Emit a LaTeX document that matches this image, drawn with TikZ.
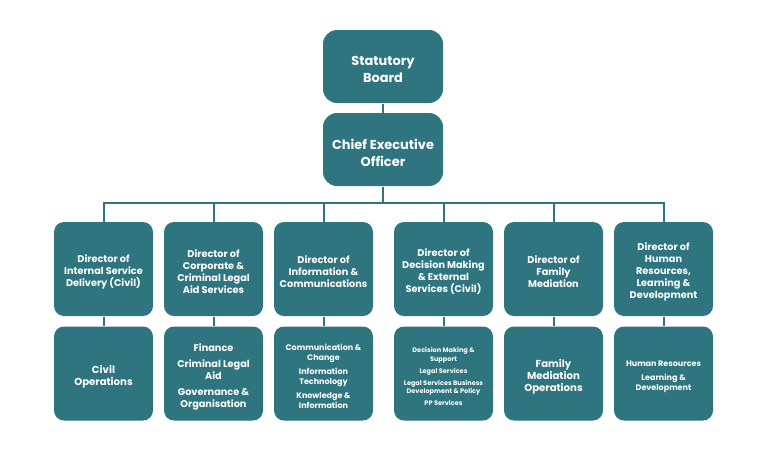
\documentclass[tikz,border=0pt]{standalone}
\usepackage{fontspec}
\setmainfont{Poppins}
\definecolor{boardteal}{RGB}{47,117,128}
\tikzset{every picture/.style={line width=0.75pt}}
\tikzset{
  topbox/.style={fill=boardteal, rounded corners=10.5pt, minimum width=90pt, minimum height=54.75pt, inner sep=0pt},
  unitbox/.style={fill=boardteal, rounded corners=7.5pt, minimum width=74.25pt, minimum height=70.5pt, inner sep=0pt},
  boxtext/.style={text=white, align=center, inner sep=0pt, yshift=-2.25pt, font=\bfseries\fontsize{7.3}{9}\selectfont},
  toptext/.style={boxtext, font=\bfseries\fontsize{9.7}{12.75}\selectfont},
  link/.style={draw=boardteal, line width=1.5pt}
}

\begin{document}
\begin{tikzpicture}[x=0.75pt,y=0.75pt,yscale=-1,xscale=1]
      \useasboundingbox (0,0) rectangle (768,451);

      %Top boxes
      \node [topbox, label={[toptext]center:{Statutory\\Board}}] (board) at (383,66.5) {};
      \node [topbox, label={[toptext]center:{Chief Executive\\Officer}}] (ceo) at (383,149.5) {};

      %Directors
      \node [unitbox, label={[boxtext]center:{Director of\\Internal Service\\Delivery (Civil)}}] (dirisd) at (103.5,269) {};
      \node [unitbox, label={[boxtext]center:{Director of\\Corporate \&\\Criminal Legal\\Aid Services}}] (dircorp) at (213.5,269) {};
      \node [unitbox, label={[boxtext]center:{Director of\\Information \&\\Communications}}] (dirinfo) at (323.5,269) {};
      \node [unitbox, label={[boxtext]center:{Director of\\Decision Making\\\& External\\Services (Civil)}}] (dirdec) at (443.5,269) {};
      \node [unitbox, label={[boxtext]center:{Director of\\Family\\Mediation}}] (dirfam) at (553.5,269) {};
      \node [unitbox, label={[boxtext]center:{Director of\\Human\\Resources,\\Learning \&\\Development}}] (dirhr) at (663.5,269) {};

      %Units
      \node [unitbox, label={[boxtext, font=\bfseries\fontsize{7.6}{9}\selectfont]center:{Civil\\Operations}}] (civops) at (103.5,373.5) {};
      \node [unitbox, label={[boxtext]center:{Finance\\[3pt]Criminal Legal\\Aid\\[3pt]Governance \&\\Organisation}}] (corpunits) at (213.5,373.5) {};
      \node [unitbox, label={[boxtext, font=\bfseries\fontsize{6}{7.5}\selectfont]center:{Communication \&\\Change\\[3pt]Information\\Technology\\[3pt]Knowledge \&\\Information}}] (infounits) at (323.5,373.5) {};
      \node [unitbox, label={[boxtext, font=\bfseries\fontsize{4.9}{6.5}\selectfont]center:{Decision Making \&\\Support\\[2.5pt]Legal Services\\[2.5pt]Legal Services Business\\Development \& Policy\\[2.5pt]PP Services}}] (decunits) at (443.5,373.5) {};
      \node [unitbox, label={[boxtext, font=\bfseries\fontsize{7.6}{9}\selectfont]center:{Family\\Mediation\\Operations}}] (famops) at (553.5,373.5) {};
      \node [unitbox, label={[boxtext, font=\bfseries\fontsize{6}{7.5}\selectfont]center:{Human Resources\\[3pt]Learning \&\\Development}}] (hrunits) at (663.5,373.5) {};

      %Connectors
      \coordinate (bus) at (383,203);
      \draw [link] (board) -- (ceo);
      \draw [link] (ceo) -- (bus);
      \draw [link] (dirisd.north) -- (dirisd.north |- bus) -- (dirhr.north |- bus) -- (dirhr.north);
      \draw [link] (dircorp.north) -- (dircorp.north |- bus);
      \draw [link] (dirinfo.north) -- (dirinfo.north |- bus);
      \draw [link] (dirdec.north) -- (dirdec.north |- bus);
      \draw [link] (dirfam.north) -- (dirfam.north |- bus);
      \draw [link] (dirisd) -- (civops);
      \draw [link] (dircorp) -- (corpunits);
      \draw [link] (dirinfo) -- (infounits);
      \draw [link] (dirdec) -- (decunits);
      \draw [link] (dirfam) -- (famops);
      \draw [link] (dirhr) -- (hrunits);
\end{tikzpicture}
\end{document}
